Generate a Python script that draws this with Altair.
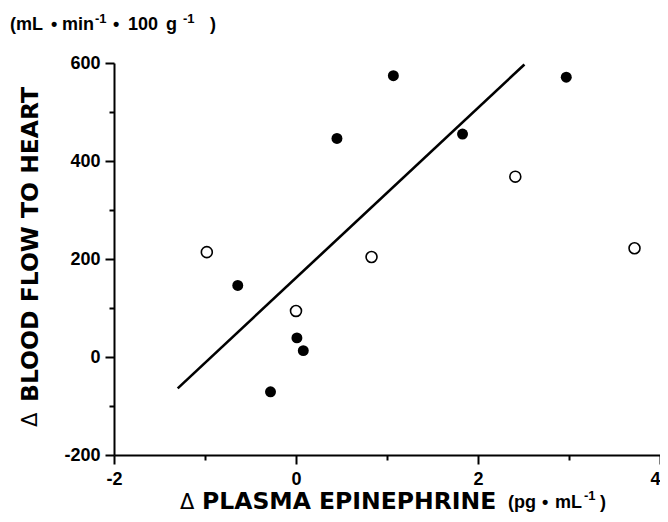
import altair as alt
import pandas as pd

# ---- data ----
filled_x = [1.07, 2.97, 1.83, 0.45, -0.64, 0.01, 0.08, -0.28]
filled_y = [574, 571, 455, 446, 146, 39, 13, -71]
open_x = [-0.98, 0.83, 0.00, 2.41, 3.72]
open_y = [214, 204, 94, 368, 222]
line_x = [-1.30, 2.51]
line_y = [-64, 597]

x_ticks = [-2, -1, 0, 1, 2, 3, 4]
y_ticks = [-200, -100, 0, 100, 200, 300, 400, 500, 600]

filled_df = pd.DataFrame({"x": filled_x, "y": filled_y})
open_df = pd.DataFrame({"x": open_x, "y": open_y})
line_df = pd.DataFrame({"x": line_x, "y": line_y})

W, H = 546, 392
PAD_L, PAD_T = 106, 55
OX, OY = 8 + PAD_L, 8 + PAD_T  # page position of the plot origin

xscale = alt.Scale(domain=[-2, 4], nice=False, zero=False)
yscale = alt.Scale(domain=[-200, 600], nice=False, zero=False)

xaxis = alt.Axis(
    values=x_ticks, title=None, grid=False,
    labelExpr="datum.value % 2 === 0 ? '' + datum.value : ''",
    tickSize={"condition": {"test": "datum.value % 2 === 0", "value": 9}, "value": 5},
    labelAlign={"condition": {"test": "datum.value === 4", "value": "right"}, "value": "center"},
    labelPadding=6, labelFlush=False, labelOverlap=False,
)
yaxis = alt.Axis(
    values=y_ticks, title=None, grid=False,
    labelExpr="datum.value % 200 === 0 ? '' + datum.value : ''",
    tickSize={"condition": {"test": "datum.value % 200 === 0", "value": 9}, "value": 5},
    labelPadding=5, labelFlush=False, labelOverlap=False,
)

X = alt.X("x:Q", scale=xscale, axis=xaxis)
Y = alt.Y("y:Q", scale=yscale, axis=yaxis)

line = alt.Chart(line_df).mark_line(color="black", strokeWidth=2.6).encode(x=X, y=Y)
filled = alt.Chart(filled_df).mark_circle(size=120, color="black", opacity=1).encode(x=X, y=Y)
opened = alt.Chart(open_df).mark_circle(
    size=120, fill="white", stroke="black", strokeWidth=1.6, opacity=1
).encode(x=X, y=Y)


def label(text, px, py, size, font="Liberation Sans", align="left",
          baseline="alphabetic", angle=0, weight="bold"):
    """Text placed at a page position (px, py)."""
    return alt.Chart(pd.DataFrame({"t": [text]})).mark_text(
        font=font, fontSize=size, fontWeight=weight, align=align, baseline=baseline,
        angle=angle, color="black",
    ).encode(x=alt.value(px - OX), y=alt.value(py - OY), text=alt.Text("t:N"))


texts = [
    # unit label at top-left: (mL • min-1 • 100 g-1 )
    label("(mL", 10, 30, 18),
    label("•", 51, 30, 18),
    label("min", 62, 30, 18),
    label("-1", 95, 23, 13),
    label("•", 113, 30, 18),
    label("100", 128, 30, 18),
    label("g", 166, 30, 18),
    label("-1", 183, 23, 13),
    label(")", 210, 30, 18),
    # y title (rotated, reads upwards)
    label("\u0394", 31, 427, 21, font="DejaVu Sans", baseline="middle", angle=270, weight="normal"),
    label("BLOOD FLOW TO HEART", 31, 402, 23.5, font="DejaVu Sans", baseline="middle", angle=270),
    # x title
    label("\u0394", 180, 509, 21, font="DejaVu Sans", weight="normal"),
    label("PLASMA EPINEPHRINE", 202, 509, 23.5, font="DejaVu Sans"),
    label("(pg", 508, 508, 18),
    label("•", 542, 508, 18),
    label("mL", 555, 508, 18),
    label("-1", 584, 500, 13),
    label(")", 600, 508, 18),
]

chart = alt.layer(line, filled, opened, *texts).properties(
    width=W, height=H,
    autosize=alt.AutoSizeParams(type="none"),
    padding={"left": PAD_L, "top": PAD_T, "right": 0, "bottom": 59},
).configure_view(stroke=None).configure_axis(
    labelFont="Liberation Sans", labelFontSize=18, labelFontWeight="bold", labelColor="black",
    domainColor="black", domainWidth=2, tickColor="black", tickWidth=2,
)

chart.save("out.html", embed_options={"renderer": "svg", "actions": False})
